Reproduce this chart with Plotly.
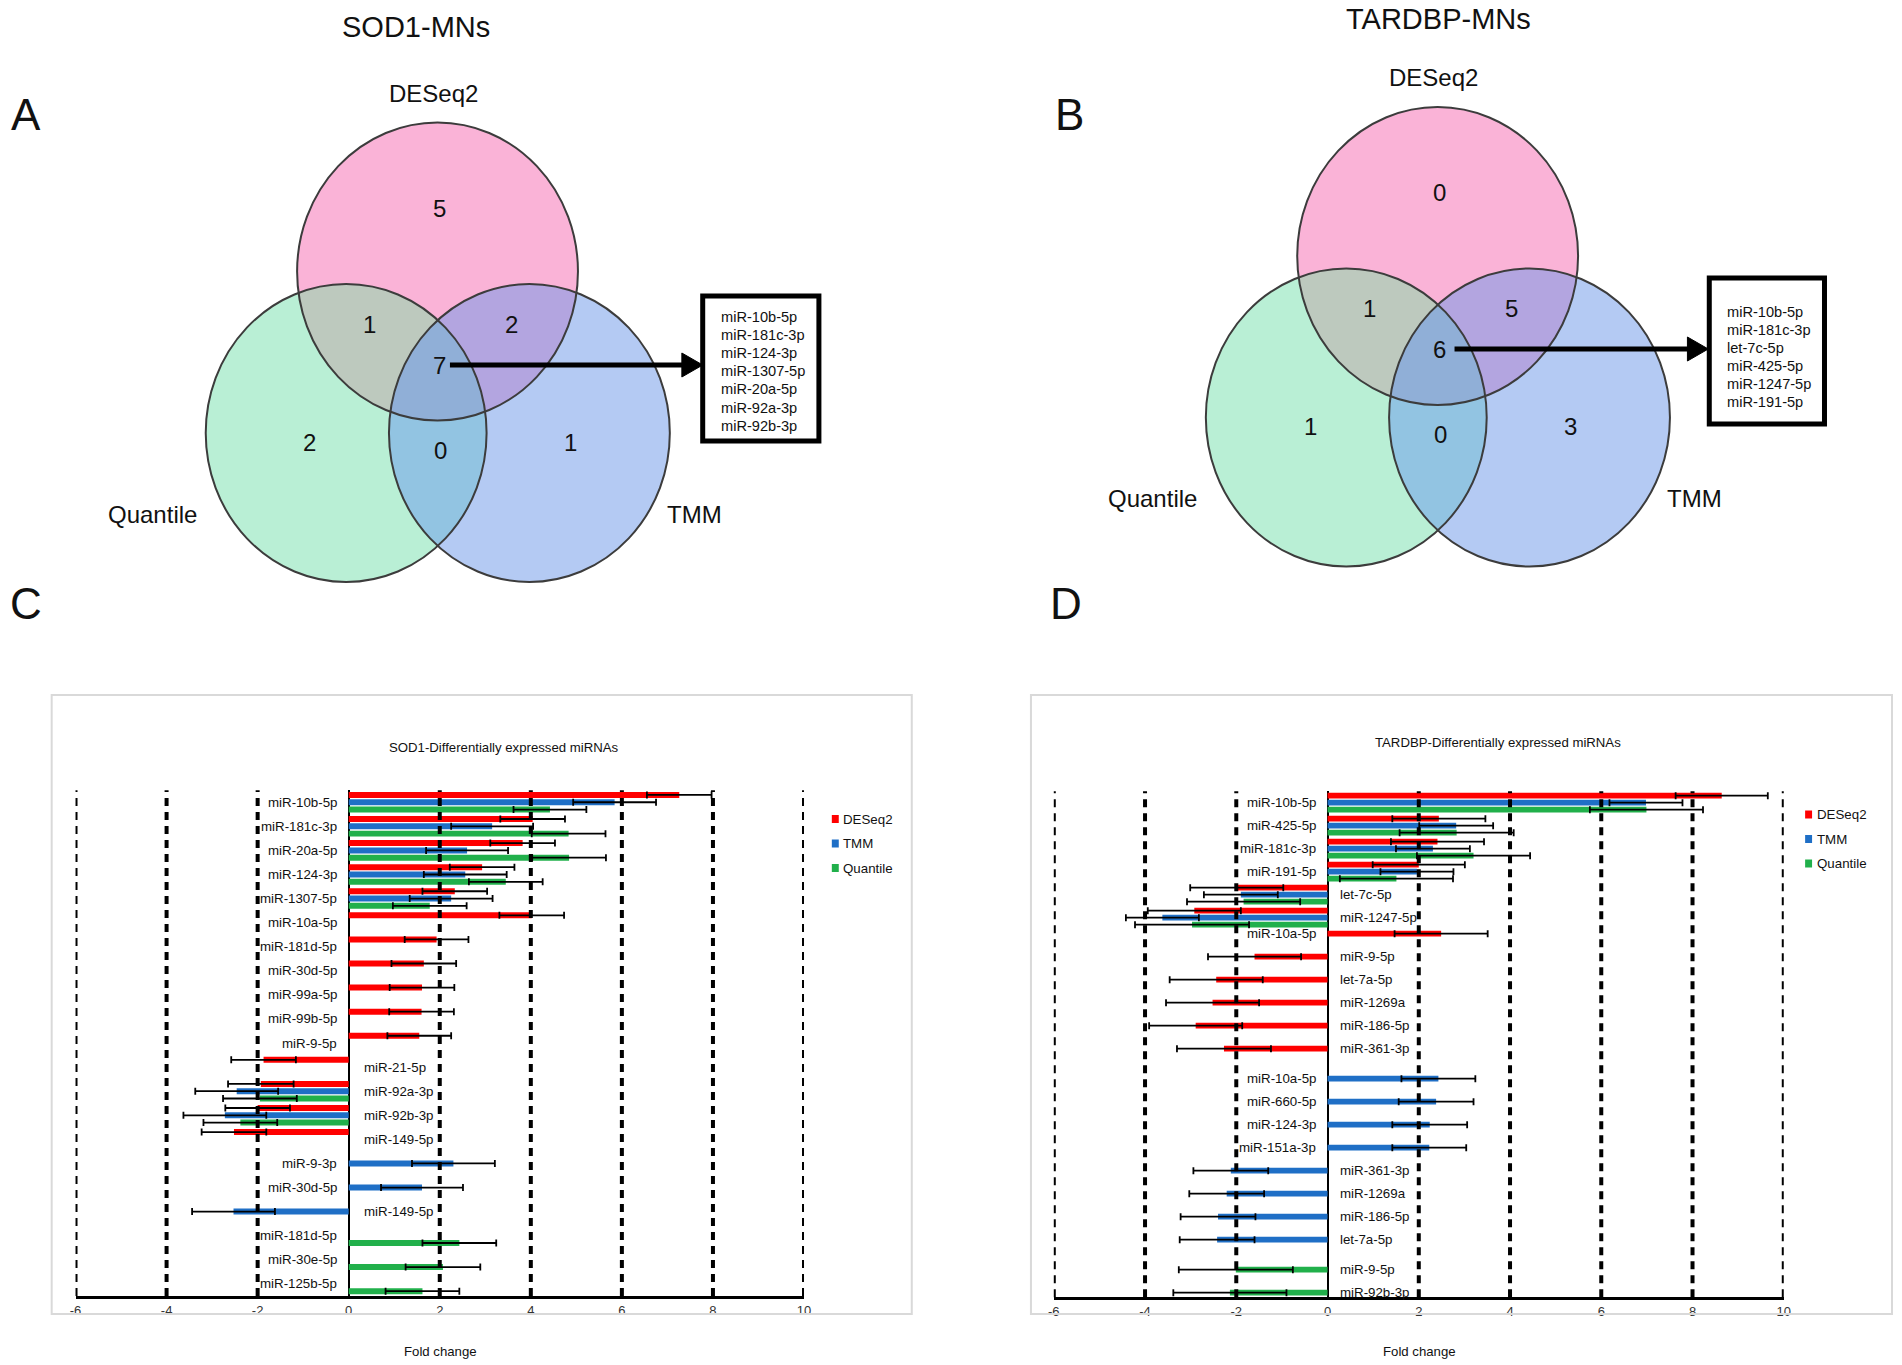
import numpy as np
import plotly.graph_objects as go

W, H = 1902, 1365
FONT = "Liberation Sans, Arial, sans-serif"

# ---------------------------------------------------------------- data
methods = ["DESeq2", "TMM", "Quantile"]
method_colors = ["#FF0000", "#1F6FC6", "#21B04B"]

# Panel C - SOD1
sod1_mirnas = ["miR-10b-5p", "miR-181c-3p", "miR-20a-5p", "miR-124-3p", "miR-1307-5p",
               "miR-10a-5p", "miR-181d-5p", "miR-30d-5p", "miR-99a-5p", "miR-99b-5p",
               "miR-9-5p", "miR-21-5p", "miR-92a-3p", "miR-92b-3p", "miR-149-5p",
               "miR-9-3p", "miR-30d-5p", "miR-149-5p", "miR-181d-5p", "miR-30e-5p",
               "miR-125b-5p"]
sod1_deseq2 = [7.26, 4.04, 3.82, 2.93, 2.33, 4.02, 1.93, 1.65, 1.61, 1.60, 1.55, -1.87,
               -1.93, -2.00, -2.52, None, None, None, None, None, None]
sod1_deseq2_err = [0.71, 0.71, 0.71, 0.71, 0.71, 0.71, 0.70, 0.71, 0.71, 0.71, 0.70, 0.71,
                   0.72, 0.71, 0.71, None, None, None, None, None, None]
sod1_tmm = [5.84, 3.15, 2.60, 2.56, 2.25, None, None, None, None, None, None, None,
            -2.46, -2.72, None, 2.30, 1.61, -2.53, None, None, None]
sod1_tmm_err = [0.91, 0.90, 0.90, 0.91, 0.91, None, None, None, None, None, None, None,
                0.91, 0.91, None, 0.91, 0.90, 0.91, None, None, None]
sod1_quantile = [4.42, 4.83, 4.84, 3.45, 1.78, None, None, None, None, None, None, None,
                 -1.95, -2.38, None, None, None, None, 2.43, 2.07, 1.62]
sod1_quantile_err = [0.80, 0.81, 0.81, 0.81, 0.81, None, None, None, None, None, None, None,
                     0.81, 0.81, None, None, None, None, 0.81, 0.82, 0.81]

# Panel D - TARDBP
tardbp_mirnas = ["miR-10b-5p", "miR-425-5p", "miR-181c-3p", "miR-191-5p", "let-7c-5p",
                 "miR-1247-5p", "miR-10a-5p", "miR-9-5p", "let-7a-5p", "miR-1269a",
                 "miR-186-5p", "miR-361-3p", "miR-10a-5p", "miR-660-5p", "miR-124-3p",
                 "miR-151a-3p", "miR-361-3p", "miR-1269a", "miR-186-5p", "let-7a-5p",
                 "miR-9-5p", "miR-92b-3p"]
tardbp_deseq2 = [8.64, 2.44, 2.41, 2.00, -1.99, -2.92, 2.49, -1.60, -2.44, -2.52, -2.89, -2.27,
                 None, None, None, None, None, None, None, None, None, None]
tardbp_deseq2_err = [1.01, 1.02, 1.02, 1.01, 1.02, 1.02, 1.02, 1.02, 1.02, 1.02, 1.02, 1.03,
                     None, None, None, None, None, None, None, None, None, None]
tardbp_tmm = [6.98, 2.82, 2.31, 1.96, -1.90, -3.62, None, None, None, None, None, None,
              2.43, 2.38, 2.24, 2.23, -2.12, -2.21, -2.40, -2.42, None, None]
tardbp_tmm_err = [0.80, 0.81, 0.81, 0.80, 0.81, 0.80, None, None, None, None, None, None,
                  0.81, 0.82, 0.82, 0.81, 0.82, 0.82, 0.82, 0.82, None, None]
tardbp_quantile = [6.99, 2.83, 3.20, 1.51, -1.84, -2.97, None, None, None, None, None, None,
                   None, None, None, None, None, None, None, None, -2.01, -2.14]
tardbp_quantile_err = [1.24, 1.25, 1.24, 1.24, 1.24, 1.25, None, None, None, None, None, None,
                       None, None, None, None, None, None, None, None, 1.25, 1.24]

fold_ticks = [-6, -4, -2, 0, 2, 4, 6, 8, 10]

# Venn diagrams (regions: DESeq2 only, DESeq2&Quantile, DESeq2&TMM, all three,
#                Quantile only, Quantile&TMM, TMM only)
venn_sets = ["DESeq2", "Quantile", "TMM"]
venn_regions = ["D", "DQ", "DT", "DQT", "Q", "QT", "T"]
sod1_venn_counts = [5, 1, 2, 7, 2, 0, 1]
tardbp_venn_counts = [0, 1, 5, 6, 1, 0, 3]
sod1_common = ["miR-10b-5p", "miR-181c-3p", "miR-124-3p", "miR-1307-5p",
               "miR-20a-5p", "miR-92a-3p", "miR-92b-3p"]
tardbp_common = ["miR-10b-5p", "miR-181c-3p", "let-7c-5p", "miR-425-5p",
                 "miR-1247-5p", "miR-191-5p"]

# ---------------------------------------------------------------- layout constants (pixels)
RX, RY = 141.4, 149.0
VENN_A = dict(
    dx=0.0, dy=0.0,
    title=("SOD1-MNs", 412.5, 26.5), letter=("A", 20.0, 114.5),
    box=(701.5, 296, 818.5, 441), text_x=718.0, text_y0=317.0, text_step=18.1,
    arrow_y=365, arrow_x0=447.0, arrow_tip=701.5,
)
VENN_B = dict(
    dx=1007.0, dy=-15.5,
    title=("TARDBP-MNs", 1442, 19), letter=("B", 1070.5, 114.5),
    box=(1715, 278, 1831, 424), text_x=1731.0, text_y0=312.0, text_step=17.9,
    arrow_y=349, arrow_x0=1458.5, arrow_tip=1714,
)
# base geometry (panel A frame)
CIRCLE_CENTERS = {"D": (434.5, 271.5), "Q": (342.5, 433.0), "T": (527.0, 433.0)}
REGION_POS = {"D": (436.5, 208), "DQ": (366, 324), "DT": (509, 324), "DQT": (436, 365),
              "Q": (306, 442), "QT": (437, 450), "T": (568.5, 442)}
SET_LABEL_POS = {"DESeq2": (430, 93), "Quantile": (147, 514), "TMM": (693.5, 514)}
REGION_COLORS = {"D": "#FAB3D7", "Q": "#B9EFD5", "T": "#B4CAF3",
                 "DQ": "#BDC9BE", "DT": "#B3A5E0", "QT": "#92C4E2", "DQT": "#90AFD7"}

fig = go.Figure()

# pixel-coordinate overlay axis covering the full figure
fig.update_layout(
    xaxis3=dict(domain=[0, 1], range=[0, W], visible=False, fixedrange=True, anchor="y3"),
    yaxis3=dict(domain=[0, 1], range=[H, 0], visible=False, fixedrange=True, anchor="x3"),
)

shapes = []
annots = []


def txt(x, y, text, size, xanchor="center", yanchor="middle", color="#111111"):
    annots.append(dict(x=x, y=y, xref="x3", yref="y3", text=text, showarrow=False,
                       xanchor=xanchor, yanchor=yanchor,
                       font=dict(family=FONT, size=size, color=color)))


def ell_pts(c, n=1440):
    t = np.linspace(0, 2 * np.pi, n, endpoint=False)
    return np.c_[c[0] + RX * np.cos(t), c[1] + RY * np.sin(t)]


def inside(p, c):
    return ((p[:, 0] - c[0]) / RX) ** 2 + ((p[:, 1] - c[1]) / RY) ** 2 <= 1 + 1e-9


def intersection(circles):
    pts = []
    for i, c in enumerate(circles):
        P = ell_pts(c)
        mask = np.ones(len(P), bool)
        for j, d in enumerate(circles):
            if j != i:
                mask &= inside(P, d)
        pts.append(P[mask])
    pts = np.vstack(pts)
    cen = pts.mean(axis=0)
    ang = np.arctan2(pts[:, 1] - cen[1], pts[:, 0] - cen[0])
    return pts[np.argsort(ang)]


def draw_venn(cfg, counts, common):
    dx, dy = cfg["dx"], cfg["dy"]
    cen = {k: (v[0] + dx, v[1] + dy) for k, v in CIRCLE_CENTERS.items()}
    order = ["Q", "T", "QT", "D", "DQ", "DT", "DQT"]
    for key in order:
        poly = intersection([cen[ch] for ch in key])
        xs = list(poly[:, 0]) + [poly[0, 0]]
        ys = list(poly[:, 1]) + [poly[0, 1]]
        fig.add_trace(go.Scatter(x=xs, y=ys, xaxis="x3", yaxis="y3", mode="lines",
                                 line=dict(width=0), fill="toself",
                                 fillcolor=REGION_COLORS[key], hoverinfo="skip",
                                 showlegend=False))
    for key in ["D", "Q", "T"]:
        cx, cy = cen[key]
        shapes.append(dict(type="circle", xref="x3", yref="y3", x0=cx - RX, x1=cx + RX,
                           y0=cy - RY, y1=cy + RY, line=dict(color="#3C3C3C", width=2)))
    for reg, cnt in zip(venn_regions, counts):
        x, y = REGION_POS[reg]
        txt(x + dx, y + dy, str(cnt), 24)
    for name in venn_sets:
        x, y = SET_LABEL_POS[name]
        txt(x + dx, y + dy, name, 24)
    t, tx, ty = cfg["title"]
    txt(tx, ty, t, 29)
    l, lx, ly = cfg["letter"]
    txt(lx, ly, l, 44)
    # arrow
    ay = cfg["arrow_y"]
    tip = cfg["arrow_tip"]
    shapes.append(dict(type="line", xref="x3", yref="y3", x0=cfg["arrow_x0"], x1=tip - 18,
                       y0=ay, y1=ay, line=dict(color="black", width=5)))
    shapes.append(dict(type="path", xref="x3", yref="y3",
                       path=f"M{tip - 21},{ay - 12} L{tip},{ay} L{tip - 21},{ay + 12} Z",
                       fillcolor="black", line=dict(color="black", width=1)))
    # box with common miRNAs
    x0, y0, x1, y1 = cfg["box"]
    shapes.append(dict(type="rect", xref="x3", yref="y3", x0=x0, x1=x1, y0=y0, y1=y1,
                       fillcolor="white", line=dict(color="black", width=5)))
    for i, name in enumerate(common):
        txt(cfg["text_x"], cfg["text_y0"] + i * cfg["text_step"], name, 14.6,
            xanchor="left", color="#111111")


draw_venn(VENN_A, sod1_venn_counts, sod1_common)
draw_venn(VENN_B, tardbp_venn_counts, tardbp_common)

# ---------------------------------------------------------------- bar panels
PANEL_C = dict(xa="x", ya="y", x_px=(70, 803.5), y_px=(790.2, 1295.9),
               border=(46, 695, 912, 1314),
               title=("SOD1-Differentially expressed miRNAs", 501, 747),
               letter=("C", 20.5, 603), legend_x=835, legend_y=(819, 843.5, 868),
               xlabel_y=1351.5, label_shift=(-10, 13), follow_bar=False)
PANEL_D = dict(xa="x2", ya="y2", x_px=(1055, 1790), y_px=(791.2, 1297.2),
               border=(1032, 695, 1899, 1314),
               title=("TARDBP-Differentially expressed miRNAs", 1502, 742),
               letter=("D", 1067.5, 603), legend_x=1815, legend_y=(814.5, 839, 863.5),
               xlabel_y=1351.5, label_shift=(-10, 10), follow_bar=True)

BARGAP = 0.09
BARGROUPGAP = 0.18


def draw_bars(cfg, labels, series, errors):
    xa, ya = cfg["xa"], cfg["ya"]
    n = len(labels)
    idx = list(range(n))
    for name, color, vals, errs in zip(methods, method_colors, series, errors):
        fig.add_trace(go.Bar(
            x=vals, y=idx, orientation="h", name=name, xaxis=xa, yaxis=ya,
            marker=dict(color=color, line=dict(width=0)),
            error_x=dict(type="data", array=errs, symmetric=True, color="black",
                         thickness=1.8, width=3.5),
            showlegend=False, hovertemplate="%{x}<extra>" + name + "</extra>"))
    axis_num = "" if xa == "x" else xa[1:]
    xd = [cfg["x_px"][0] / W, cfg["x_px"][1] / W]
    yd = [1 - cfg["y_px"][1] / H, 1 - cfg["y_px"][0] / H]
    fig.update_layout(**{
        "xaxis" + axis_num: dict(
            domain=xd, anchor=ya, range=[fold_ticks[0], fold_ticks[-1]],
            tickmode="array", tickvals=fold_ticks, ticktext=[str(t) for t in fold_ticks],
            showgrid=False, zeroline=True, zerolinecolor="black", zerolinewidth=2,
            showline=True, linecolor="black", linewidth=3, ticks="",
            tickfont=dict(family=FONT, size=13, color="#333333"), fixedrange=True),
        "yaxis" + axis_num: dict(
            domain=yd, anchor=xa, range=[n - 0.5, -0.5], visible=False, fixedrange=True),
    })
    # dashed vertical gridlines
    for t in fold_ticks:
        if t == 0:
            continue
        shapes.append(dict(type="line", xref=xa, yref=ya + " domain", x0=t, x1=t, y0=0, y1=1,
                           line=dict(color="black", width=4, dash="8px,6px")))
    # category labels next to the zero line
    slot = (1 - BARGAP) / 3
    for i, lab in enumerate(labels):
        present = [k for k in range(3) if series[k][i] is not None]
        first = series[present[0]][i]
        yy = i
        if cfg["follow_bar"] and len(present) == 1:
            yy = i + (present[0] - 1) * slot
        if first >= 0:
            xanchor, xshift = "right", cfg["label_shift"][0]
        else:
            xanchor, xshift = "left", cfg["label_shift"][1]
        annots.append(dict(x=0, y=yy, xref=xa, yref=ya, text=lab, showarrow=False,
                           xanchor=xanchor, yanchor="middle", xshift=xshift,
                           font=dict(family=FONT, size=13.3, color="#111111")))
    # chart frame
    bx0, by0, bx1, by1 = cfg["border"]
    shapes.append(dict(type="rect", xref="x3", yref="y3", x0=bx0, x1=bx1, y0=by0, y1=by1,
                       line=dict(color="#D9D9D9", width=2), fillcolor="rgba(0,0,0,0)"))
    t, tx, ty = cfg["title"]
    txt(tx, ty, t, 13.2)
    l, lx, ly = cfg["letter"]
    txt(lx, ly, l, 44)
    # x axis title
    txt((cfg["x_px"][0] + cfg["x_px"][1]) / 2 + 1, cfg["xlabel_y"], "Fold change", 13.2)
    # legend
    for name, color, ly in zip(methods, method_colors, cfg["legend_y"]):
        lx = cfg["legend_x"]
        shapes.append(dict(type="rect", xref="x3", yref="y3", x0=lx - 3.5, x1=lx + 3.5,
                           y0=ly - 4, y1=ly + 4, fillcolor=color, line=dict(width=0)))
        txt(lx + 6, ly, name, 13.3, xanchor="left")


draw_bars(PANEL_C, sod1_mirnas, [sod1_deseq2, sod1_tmm, sod1_quantile],
          [sod1_deseq2_err, sod1_tmm_err, sod1_quantile_err])
draw_bars(PANEL_D, tardbp_mirnas, [tardbp_deseq2, tardbp_tmm, tardbp_quantile],
          [tardbp_deseq2_err, tardbp_tmm_err, tardbp_quantile_err])

fig.update_layout(
    width=W, height=H, margin=dict(l=0, r=0, t=0, b=0),
    paper_bgcolor="white", plot_bgcolor="rgba(0,0,0,0)",
    barmode="group", bargap=BARGAP, bargroupgap=BARGROUPGAP,
    showlegend=False, shapes=shapes, annotations=annots,
    font=dict(family=FONT, color="#111111"),
)

# place the figure flush with the page corner (remove default body margin)
fig.write_html("out.html", config={"displayModeBar": False},
               post_script="document.body.style.margin='0';document.body.style.padding='0';")
